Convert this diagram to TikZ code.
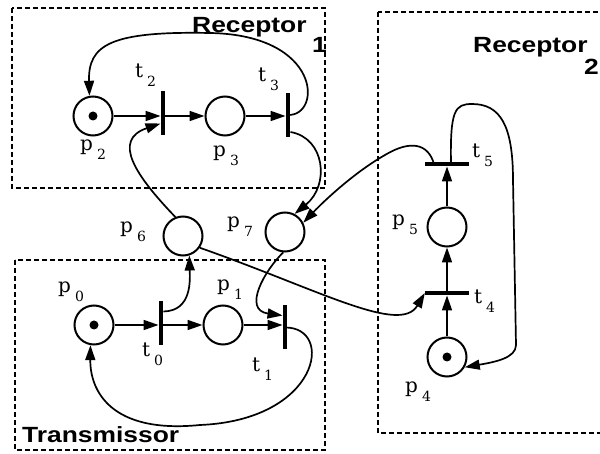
\documentclass[tikz,border=0pt]{standalone}
\usepackage{fontspec}
\setmainfont{DejaVu Serif}
\newfontfamily\grpfont[FakeStretch=1.2]{Liberation Sans}
\usetikzlibrary{arrows.meta}
\newcommand{\plab}[2]{#1\hspace{4pt}\raisebox{-9pt}{\fontsize{14}{14}\selectfont #2}}

\begin{document}
\begin{tikzpicture}[x=1pt, y=-1pt, >={Triangle[length=15pt, width=10pt]},
      plc/.style={draw, circle, line width=2pt, minimum size=39pt, inner sep=0pt},
      vbar/.style={fill, rectangle, minimum width=4.5pt, minimum height=44pt, inner sep=0pt},
      hbar/.style={fill, rectangle, minimum width=44pt, minimum height=4.5pt, inner sep=0pt},
      arr/.style={->, line width=1.7pt},
      grp/.style={draw, line width=1.8pt, dash pattern=on 5pt off 3pt},
      lbl/.style={anchor=base west, inner sep=0pt, font=\fontsize{20}{20}\selectfont},
      glbl/.style={anchor=base west, inner sep=0pt, font=\grpfont\bfseries\fontsize{22}{22}\selectfont}]

    \useasboundingbox (0,0) rectangle (600,454);

    % ---- Layout ----
    \def\ya{116}    % Receptor 1 row
    \def\yb{325}    % Transmissor row
    \def\xc{447}    % Receptor 2 column

    % ---- group boxes ----
    \draw[grp] (12,8) rectangle (325,188);
    \draw[grp] (15,260) rectangle (325,450);
    \draw[grp] (378,12) rectangle (603,433);
    \node[glbl] (g1) at (192,33) {Receptor};
    \node[glbl] (g1n) at (312,53) {1};
    \node[glbl] (g2) at (473,53) {Receptor};
    \node[glbl] (g2n) at (584,75) {2};
    \node[glbl] (g0) at (22,442) {Transmissor};

    % ---- places ----
    \node[plc] (p0) at (94, \yb) {};
    \node[plc] (p1) at (223, \yb) {};
    \node[plc] (p2) at (93, \ya) {};
    \node[plc] (p3) at (225, \ya) {};
    \node[plc] (p6) at (183, 236) {};
    \node[plc] (p7) at (285, 232) {};
    \node[plc] (p5) at (\xc, 227) {};
    \node[plc] (p4) at (\xc, 357) {};
    \foreach \p in {p0, p2, p4} \fill (\p) circle (4.5pt);

    % ---- transitions ----
    \node[vbar] (t0) at (161, 323.5) {};
    \node[vbar] (t1) at (285, 327.5) {};
    \node[vbar] (t2) at (163, 113.5) {};
    \node[vbar] (t3) at (288, 115) {};
    \node[hbar] (t4) at (\xc, 293) {};
    \node[hbar] (t5) at (\xc, 164) {};

    % ---- labels ----
    \node[lbl] at (58,293)  {\plab{p}{0}};
    \node[lbl] at (217,291) {\plab{p}{1}};
    \node[lbl] at (80,151)  {\plab{p}{2}};
    \node[lbl] at (213,157) {\plab{p}{3}};
    \node[lbl] at (405,392) {\plab{p}{4}};
    \node[lbl] at (392,226) {\plab{p}{5}};
    \node[lbl] at (120,233) {\plab{p}{6}};
    \node[lbl] at (227,228) {\plab{p}{7}};
    \node[lbl] at (142,357) {\plab{t}{0}};
    \node[lbl] at (252,372) {\plab{t}{1}};
    \node[lbl] at (135,78)  {\plab{t}{2}};
    \node[lbl] at (258,82)  {\plab{t}{3}};
    \node[lbl] at (474,304) {\plab{t}{4}};
    \node[lbl] at (472,158) {\plab{t}{5}};

    % ---- straight arcs ----
    \draw[arr] (p0) -- (p0 -| t0.west);
    \draw[arr] (p1 -| t0.east) -- (p1);
    \draw[arr] (p1) -- (p1 -| t1.west);
    \draw[arr] (p2) -- (p2 -| t2.west);
    \draw[arr] (p3 -| t2.east) -- (p3);
    \draw[arr] (p3) -- (p3 -| t3.west);
    \draw[arr] (p4) -- (p4 |- t4.south);
    \draw[arr] (p5 |- t4.north) -- (p5);
    \draw[arr] (p5) -- (p5 |- t5.south);

    % ---- curved arcs ----
    \draw[arr] (t3.center) .. controls (322,116) and (322,35) .. (210,33)
                           .. controls (110,31) and (88,45) .. (p2.100);
    \draw[arr] (p6.112) .. controls (135,175) and (112,140) .. ([yshift=-10pt]t2.west);
    \draw[arr] ([yshift=-17pt]t3.east) .. controls (325,138) and (330,185) .. (p7.62);
    \draw[arr] ([xshift=-13pt]t5.center) .. controls (428,143) and (410,140) .. (385,155)
                                         .. controls (355,172) and (325,200) .. (p7.27);
    \draw[arr] ([yshift=12pt]t0.east) .. controls (192,311) and (190,280) .. (p6.-72);
    \draw[arr] (p7.-95) .. controls (265,270) and (242,310) .. ([yshift=12pt]t1.west);
    \draw[arr] (t1.center) .. controls (335,327) and (320,420) .. (200,425)
                           .. controls (110,434) and (90,390) .. (p0.-100);
    \draw[arr] (p6.-35) .. controls (320,290) and (400,335) .. (t4.west);
    \draw[arr] ([xshift=4pt]t5.center) .. controls (450,110) and (455,104) .. (472,104)
                                       .. controls (500,104) and (513,125) .. (513,180)
                                       -- (516,345) .. controls (516,358) and (495,362) .. (p4.-30);

\end{tikzpicture}
\end{document}
